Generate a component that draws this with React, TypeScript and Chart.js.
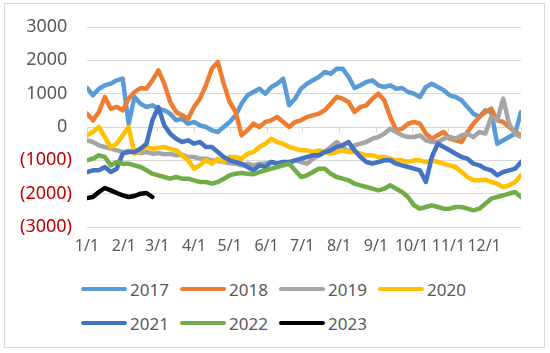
import { useEffect, useRef } from "react";
import { Chart, registerables } from "chart.js";

Chart.register(...registerables);

// x positions: day of year (0 = Jan 1), one reading every 5 days
const days = [0, 5, 10, 15, 20, 25, 30, 35, 40, 45, 50, 55, 60, 65, 70, 75, 80, 85, 90, 95, 100, 105, 110, 115, 120, 125, 130, 135, 140, 145, 150, 155, 160, 165, 170, 175, 180, 185, 190, 195, 200, 205, 210, 215, 220, 225, 230, 235, 240, 245, 250, 255, 260, 265, 270, 275, 280, 285, 290, 295, 300, 305, 310, 315, 320, 325, 330, 335, 340, 345, 350, 355, 360, 365];

const monthStarts = [0, 31, 59, 90, 120, 151, 181, 212, 243, 273, 304, 334];
const monthLabels = ["1/1", "2/1", "3/1", "4/1", "5/1", "6/1", "7/1", "8/1", "9/1", "10/1", "11/1", "12/1"];
const yTicks = [-3000, -2000, -1000, 0, 1000, 2000, 3000];

const seriesNames = ["2017", "2018", "2019", "2020", "2021", "2022", "2023"];
const seriesColors = ["#5B9BD5", "#ED7D31", "#A5A5A5", "#FFC000", "#4472C4", "#70AD47", "#000000"];

const s2017 = [1170, 950, 1150, 1250, 1300, 1400, 1450, 100, 900, 700, 600, 650, 550, 500, 400, 200, 250, 100, 150, 50, 0, -100, -150, 0, 150, 350, 700, 950, 1050, 1150, 1000, 1200, 1300, 1450, 650, 850, 1150, 1300, 1400, 1500, 1650, 1600, 1750, 1750, 1500, 1170, 1250, 1350, 1400, 1250, 1200, 1250, 1150, 1170, 1050, 1000, 900, 1200, 1300, 1200, 1100, 950, 900, 800, 600, 400, 300, 500, 450, -500, -400, -300, -200, 450];
const s2018 = [400, 200, 450, 900, 550, 600, 500, 850, 1050, 1170, 1150, 1400, 1700, 1300, 750, 450, 350, 250, 600, 850, 1250, 1750, 1950, 1300, 750, 450, -250, -100, 100, 0, 150, 200, 300, 150, 0, 150, 200, 300, 350, 400, 500, 700, 900, 850, 750, 450, 600, 650, 850, 1000, 800, 300, -100, -50, 100, 150, 100, -200, -350, -250, -150, -350, -400, -450, -150, 100, 300, 450, 550, 200, 150, 0, -150, -250];
const s2019 = [-400, -450, -550, -600, -650, -700, -750, -720, -750, -780, -750, -800, -780, -820, -800, -850, -830, -900, -900, -950, -950, -1000, -1020, -1050, -1080, -1100, -1150, -1100, -1150, -1100, -1100, -1050, -1100, -1050, -1100, -1000, -1050, -1100, -950, -850, -750, -600, -450, -600, -750, -550, -500, -450, -350, -300, -200, -50, -150, -250, -300, -300, -250, -400, -450, -450, -350, -300, -350, -250, -200, -300, -150, -200, 300, 200, 850, 100, -200, -300];
const s2020 = [-250, -150, 0, -300, -600, -500, -250, 0, -800, -700, -600, -650, -620, -600, -650, -700, -850, -1000, -1250, -1150, -1000, -1100, -950, -1050, -900, -900, -950, -800, -750, -600, -500, -350, -450, -500, -600, -650, -700, -700, -750, -700, -750, -800, -750, -700, -750, -750, -800, -850, -850, -900, -900, -950, -1000, -1000, -1050, -1000, -1000, -1050, -1000, -1050, -1100, -1150, -1200, -1350, -1500, -1600, -1600, -1580, -1650, -1700, -1800, -1750, -1650, -1450];
const s2021 = [-1350, -1300, -1300, -1200, -1350, -1250, -800, -750, -750, -650, -500, 200, 600, 50, -200, -350, -450, -400, -500, -450, -600, -600, -750, -900, -1000, -1050, -1100, -1200, -1300, -1150, -1200, -1050, -1100, -1050, -1050, -1000, -950, -900, -850, -850, -750, -700, -600, -550, -450, -700, -900, -1050, -1100, -1050, -1000, -1000, -1100, -1150, -1200, -1250, -1300, -1650, -900, -500, -600, -700, -800, -900, -950, -1100, -1150, -1250, -1300, -1450, -1350, -1300, -1250, -1050];
const s2022 = [-1000, -950, -850, -900, -1150, -1050, -1100, -1100, -1150, -1200, -1300, -1400, -1450, -1500, -1550, -1500, -1550, -1550, -1600, -1650, -1650, -1700, -1650, -1550, -1450, -1400, -1380, -1400, -1420, -1350, -1300, -1250, -1200, -1150, -1100, -1300, -1500, -1450, -1350, -1250, -1250, -1400, -1500, -1550, -1600, -1700, -1750, -1800, -1850, -1900, -1850, -1750, -1850, -1950, -2100, -2350, -2450, -2400, -2350, -2400, -2450, -2450, -2400, -2400, -2450, -2500, -2450, -2300, -2150, -2100, -2050, -2000, -1950, -2100];
const s2023 = [-2130, -2100, -1950, -1830, -1900, -1980, -2050, -2100, -2070, -2000, -1980, -2100];

const FONT = "'Noto Sans', sans-serif";

const axisTickMarks = {
  id: "axisTickMarks",
  beforeDatasetsDraw(chart: any) {
    const { ctx, scales } = chart;
    const x = scales.x;
    const y = scales.y;
    const y0 = Math.round(y.getPixelForValue(0)) + 0.5;
    ctx.save();
    ctx.strokeStyle = "#D9D9D9";
    ctx.lineWidth = 1;
    [...monthStarts, 365].forEach((d) => {
      const px = Math.round(x.getPixelForValue(d)) + 0.5;
      ctx.beginPath();
      ctx.moveTo(px, y0);
      ctx.lineTo(px, y0 + 5);
      ctx.stroke();
    });
    ctx.restore();
  },
};

export default function App() {
  const ref = useRef<HTMLCanvasElement>(null);

  useEffect(() => {
    if (!ref.current) return;
    const allSeries = [s2017, s2018, s2019, s2020, s2021, s2022, s2023];
    const chart = new Chart(ref.current, {
      type: "line",
      data: {
        datasets: allSeries.map((vals, i) => ({
          label: seriesNames[i],
          data: vals.map((v, j) => ({ x: days[j], y: v })),
          borderColor: seriesColors[i],
          backgroundColor: seriesColors[i],
          borderWidth: 4.5,
          pointRadius: 0,
          pointHoverRadius: 0,
          tension: 0,
          fill: false,
          borderJoinStyle: "round" as const,
          borderCapStyle: "round" as const,
          order: allSeries.length - i,
        })),
      },
      options: {
        animation: false,
        responsive: false,
        maintainAspectRatio: false,
        events: [],
        layout: { padding: { left: 0, top: 27, right: 29, bottom: 0 } },
        plugins: { legend: { display: false }, tooltip: { enabled: false } },
        scales: {
          x: {
            type: "linear",
            min: 0,
            max: 365,
            grid: { display: false, drawTicks: false },
            border: { display: false },
            afterBuildTicks: (s: any) => {
              s.ticks = monthStarts.map((v) => ({ value: v }));
            },
            afterFit: (s: any) => {
              s.height = 38;
            },
            ticks: {
              autoSkip: false,
              maxRotation: 0,
              minRotation: 0,
              padding: 10,
              color: "#595959",
              font: { family: FONT, size: 16 },
              callback: (_v: any, i: number) => monthLabels[i],
            },
          },
          y: {
            type: "linear",
            min: -3000,
            max: 3000,
            afterBuildTicks: (s: any) => {
              s.ticks = yTicks.map((v) => ({ value: v }));
            },
            afterFit: (s: any) => {
              s.width = 87;
            },
            grid: { color: "#D9D9D9", lineWidth: 1, drawTicks: false },
            border: { display: false },
            ticks: {
              padding: 15,
              color: (c: any) => (c.tick && c.tick.value < 0 ? "#C00000" : "#595959"),
              font: { family: FONT, size: 18 },
              callback: (v: any) => (Number(v) < 0 ? `(${-Number(v)})` : `${v} `),
            },
          },
        },
      },
      plugins: [axisTickMarks],
    });
    return () => chart.destroy();
  }, []);

  return (
    <div style={{ position: "fixed", left: 0, top: 0, width: 550, height: 353, background: "#fff", overflow: "hidden" }}>
      <div
        style={{
          position: "absolute",
          left: 4,
          top: 3,
          width: 541,
          height: 345,
          border: "1px solid #D9D9D9",
          boxSizing: "border-box",
        }}
      />
      <canvas ref={ref} width={550} height={265} style={{ position: "absolute", left: 0, top: 0, width: 550, height: 265 }} />
      {seriesNames.map((name, i) => {
        const col = i % 4;
        const row = Math.floor(i / 4);
        return (
          <div
            key={name}
            style={{
              position: "absolute",
              left: 81 + col * 99,
              top: 289 + row * 34 - 11,
              height: 22,
              display: "flex",
              alignItems: "center",
              fontFamily: FONT,
              fontSize: 17,
              color: "#595959",
              whiteSpace: "nowrap",
            }}
          >
            <span style={{ display: "inline-block", width: 46, height: 4, borderRadius: 2, background: seriesColors[i], marginRight: 3 }} />
            <span>{name}</span>
          </div>
        );
      })}
    </div>
  );
}
